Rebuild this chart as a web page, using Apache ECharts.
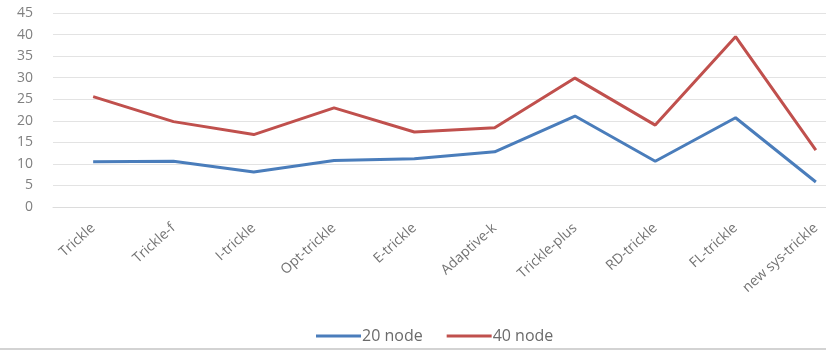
<!DOCTYPE html>
<html>
<head>
<meta charset="utf-8">
<script src="https://cdn.jsdelivr.net/npm/echarts@6/dist/echarts.min.js"></script>
<style>
  html, body { margin: 0; padding: 0; background: #fff; }
  #chart { width: 826px; height: 351px; }
</style>
</head>
<body>
<div id="chart"></div>
<script>
// Protocol variants on the x axis
const categories = ['Trickle', 'Trickle-f', 'I-trickle', 'Opt-trickle', 'E-trickle',
  'Adaptive-k', 'Trickle-plus', 'RD-trickle', 'FL-trickle', 'new sys-trickle'];
// Measured values per network size
const node20 = [10.5, 10.6, 8.1, 10.8, 11.2, 12.8, 21.1, 10.6, 20.7, 5.8];
const node40 = [25.6, 19.8, 16.8, 23.0, 17.4, 18.4, 29.9, 19.0, 39.5, 13.2];
const seriesNames = ['20 node', '40 node'];
const yTicks = { min: 0, max: 45, interval: 5 };

const font = '"Open Sans", "Liberation Sans", sans-serif';
const chart = echarts.init(document.getElementById('chart'), null, { renderer: 'canvas' });

chart.setOption({
  animation: false,
  backgroundColor: '#ffffff',
  // plot area runs past the right edge of the canvas
  grid: {
    left: 53, width: 803, top: 13, height: 194,
    containLabel: false, outerBoundsMode: 'none'
  },
  legend: {
    left: 311, top: 323,
    itemWidth: 45, itemHeight: 3, itemGap: 24,
    icon: 'rect',
    textStyle: { fontFamily: font, fontSize: 16, color: '#6b6b6b', padding: [0, 0, 0, -4] },
    data: seriesNames
  },
  xAxis: {
    type: 'category',
    data: categories,
    boundaryGap: true,
    axisLine: { show: true, lineStyle: { color: '#dcdcdc', width: 1 } },
    axisTick: { show: false },
    axisLabel: {
      interval: 0, rotate: 42, margin: 19,
      fontFamily: font, fontSize: 14, color: '#737373'
    }
  },
  yAxis: {
    type: 'value',
    min: yTicks.min, max: yTicks.max, interval: yTicks.interval,
    axisLine: { show: false },
    axisTick: { show: false },
    splitLine: { lineStyle: { color: '#e3e3e3', width: 1 } },
    axisLabel: { margin: 20, fontFamily: font, fontSize: 14, color: '#808080' }
  },
  series: [
    {
      name: seriesNames[0], type: 'line', data: node20,
      showSymbol: false, symbol: 'none',
      lineStyle: { color: '#4a7dbb', width: 3 },
      itemStyle: { color: '#4a7dbb' }
    },
    {
      name: seriesNames[1], type: 'line', data: node40,
      showSymbol: false, symbol: 'none',
      lineStyle: { color: '#c0504d', width: 3 },
      itemStyle: { color: '#c0504d' }
    }
  ],
  graphic: [
    {
      type: 'line',
      shape: { x1: 0, y1: 349, x2: 826, y2: 349 },
      style: { stroke: '#c4c4c4', lineWidth: 1.5 }
    }
  ]
});
</script>
</body>
</html>
